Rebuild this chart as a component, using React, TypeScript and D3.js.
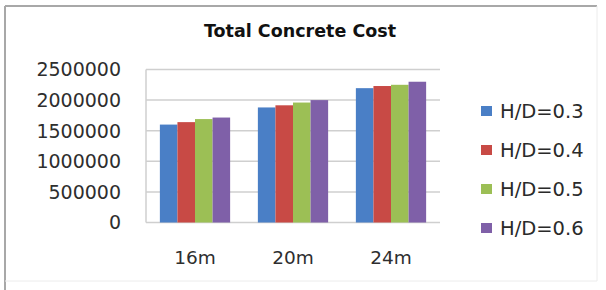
import React from 'react';
import * as d3 from 'd3';

const categories = ['16m', '20m', '24m'];
const seriesNames = ['H/D=0.3', 'H/D=0.4', 'H/D=0.5', 'H/D=0.6'];
const values16 = [1600000, 1640000, 1690000, 1715000];
const values20 = [1880000, 1915000, 1960000, 2000000];
const values24 = [2195000, 2230000, 2250000, 2300000];
const yTicks = [0, 500000, 1000000, 1500000, 2000000, 2500000];
const colors = ['#4a7fc6', '#c84a45', '#9cbf55', '#7f60a8'];

const valuesByCategory = [values16, values20, values24];

const App: React.FC = () => {
  const width = 606;
  const height = 290;
  const margin = { top: 69.5, right: 166, bottom: 67.5, left: 146 };
  const font = '"DejaVu Sans", sans-serif';

  const x0 = d3.scaleBand<string>()
    .domain(categories)
    .range([margin.left, width - margin.right])
    .paddingInner(0.283)
    .paddingOuter(0.1415);

  const x1 = d3.scaleBand<string>()
    .domain(seriesNames)
    .range([0, x0.bandwidth()]);

  const y = d3.scaleLinear()
    .domain([0, 2500000])
    .range([height - margin.bottom, margin.top]);

  return (
    <svg
      width={width}
      height={height}
      style={{ position: 'absolute', left: 0, top: 0, background: '#fff' }}
    >
      {/* outer frame */}
      <line x1={5} y1={6} x2={597} y2={6} stroke="#a8a8a8" strokeWidth={2} />
      <line x1={5} y1={6} x2={5} y2={290} stroke="#a8a8a8" strokeWidth={2} />
      <line x1={597} y1={6} x2={597} y2={281} stroke="#ececec" strokeWidth={1} />
      <line x1={5} y1={281} x2={597} y2={281} stroke="#ececec" strokeWidth={1} />

      <text
        x={300}
        y={37}
        textAnchor="middle"
        fontFamily={font}
        fontWeight="bold"
        fontSize={17.5}
        fill="#111"
      >
        Total Concrete Cost
      </text>

      {/* gridlines and y labels */}
      {yTicks.map(t => (
        <g key={t}>
          <line
            x1={margin.left}
            x2={width - margin.right}
            y1={y(t)}
            y2={y(t)}
            stroke="#cfcfcf"
            strokeWidth={1.5}
          />
          <text
            x={121}
            y={y(t)}
            dy="0.36em"
            textAnchor="end"
            fontFamily={font}
            fontSize={19}
            fill="#2e2e2e"
          >
            {t}
          </text>
        </g>
      ))}
      <line
        x1={margin.left}
        x2={margin.left}
        y1={y(2500000)}
        y2={y(0)}
        stroke="#cfcfcf"
        strokeWidth={1.5}
      />

      {/* bars */}
      {categories.map((c, ci) => (
        <g key={c} transform={`translate(${x0(c)},0)`}>
          {valuesByCategory[ci].map((v, si) => (
            <rect
              key={si}
              x={x1(seriesNames[si])}
              y={y(v)}
              width={x1.bandwidth()}
              height={y(0) - y(v)}
              fill={colors[si]}
            />
          ))}
        </g>
      ))}

      {/* category labels */}
      {categories.map(c => (
        <text
          key={c}
          x={(x0(c) ?? 0) + x0.bandwidth() / 2}
          y={264}
          textAnchor="middle"
          fontFamily={font}
          fontSize={18.5}
          fill="#2e2e2e"
        >
          {c}
        </text>
      ))}

      {/* legend */}
      {seriesNames.map((s, i) => {
        const ly = 111 + i * 39;
        return (
          <g key={s}>
            <rect x={481} y={ly - 5} width={11} height={10} fill={colors[i]} />
            <text
              x={500}
              y={ly}
              dy="0.36em"
              fontFamily={font}
              fontSize={19.5}
              fill="#2a2a2a"
            >
              {s}
            </text>
          </g>
        );
      })}
    </svg>
  );
};

export default App;
